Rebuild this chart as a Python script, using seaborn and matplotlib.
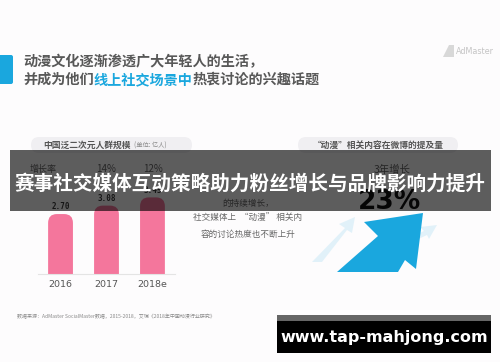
import matplotlib
matplotlib.use("Agg")
import matplotlib.pyplot as plt
import seaborn as sns
from matplotlib.patches import FancyBboxPatch, Rectangle, Polygon

# data
years = ["2016", "2017", "2018e"]
population = [2.70, 3.08, 3.45]          # 亿人
growth_labels = ["", "14%", "12%"]
value_labels = ["2.70", "3.08", "3.45"]

title_line1 = "动漫文化逐渐渗透广大年轻人的生活，"
title_line2_a = "并成为他们"
title_line2_b = "线上社交场景中"
title_line2_c = "热衷讨论的兴趣话题"
left_pill = "中国泛二次元人群规模"
left_unit = "(单位: 亿人)"
right_pill = "“动漫”相关内容在微博的提及量"
middle_lines = ["的持续增长，", "社交媒体上  “动漫” 相关内", "容的讨论热度也不断上升"]
growth_3y = "3年增长"
growth_3y_value = "23%"
source_note = "数据来源：AdMaster SocialMaster数据，2015-2018，艾瑞《2018年中国动漫行业研究》"
banner_text = "赛事社交媒体互动策略助力粉丝增长与品牌影响力提升"
site_text = "www.tap-mahjong.com"

pink = "#F4769C"
blue = "#1AA7DE"

sns.set_theme(style="white")
plt.rcParams["font.family"] = ["Noto Sans CJK SC", "DejaVu Sans"]

fig = plt.figure(figsize=(5, 3.62), dpi=100)
fig.patch.set_facecolor("#FDFCFD")

# background layer in pixel coordinates
bg = fig.add_axes([0, 0, 1, 1], zorder=0)
bg.set_xlim(0, 500)
bg.set_ylim(362, 0)
bg.axis("off")
bg.patch.set_alpha(0)

bg.add_patch(FancyBboxPatch((-6, 55), 19, 29, boxstyle="round,pad=0,rounding_size=2",
                            fc=blue, ec="none"))
bg.text(23, 62, title_line1, fontsize=10.2, fontweight="bold", color="#585858", va="center")
t = bg.text(23, 80, title_line2_a, fontsize=10.2, fontweight="bold", color="#585858", va="center")
fig.canvas.draw()
renderer = fig.canvas.get_renderer()
inv = bg.transData.inverted()


def after(txt):
    bb = txt.get_window_extent(renderer)
    return inv.transform((bb.x1, bb.y0))[0]


t2 = bg.text(after(t), 80, title_line2_b, fontsize=10.2, fontweight="bold", color=blue, va="center")
bg.text(after(t2), 80, title_line2_c, fontsize=10.2, fontweight="bold", color="#585858", va="center")

# AdMaster logo
bg.add_patch(Polygon([(443, 57), (449, 45), (454, 45), (454, 57)], fc="#d8d8d8", ec="none"))
bg.text(456, 51.5, "AdMaster", fontsize=5.8, color="#c4c4c4", va="center", family="DejaVu Sans")

# pills
bg.add_patch(FancyBboxPatch((31, 137), 161, 16, boxstyle="round,pad=0,rounding_size=8",
                            fc="#F0EFF2", ec="none"))
pt = bg.text(43, 145.5, left_pill, fontsize=6.3, fontweight="bold", color="#555555", va="center")
bg.text(after(pt) + 3, 146, left_unit, fontsize=4.5, color="#888888", va="center")
bg.add_patch(FancyBboxPatch((298, 137), 160, 16, boxstyle="round,pad=0,rounding_size=8",
                            fc="#F0EFF2", ec="none"))
bg.text(378, 145.5, right_pill, fontsize=6.3, fontweight="bold", color="#555555",
        va="center", ha="center")

# middle text
for i, line in enumerate(middle_lines):
    bg.text(248, 203 + i * 15.5, line, fontsize=6.2, color="#666666", ha="center", va="center")

# right panel: growth and arrows
bg.text(392, 170, growth_3y, fontsize=7.5, color="#666666", ha="center", va="center")
bg.text(390, 202, growth_3y_value, fontsize=19, fontweight="bold", color="#111111",
        ha="center", va="center", family="DejaVu Sans")
bg.add_patch(Polygon([(312, 262), (345, 228), (339, 224), (355, 217), (352, 233), (347, 230),
                      (322, 262)], fc="#d6edf8", ec="none", alpha=0.7))
bg.add_patch(Polygon([(375, 254), (424, 231), (420, 227), (437, 225), (429, 239), (427, 235),
                      (387, 254)], fc="#d6edf8", ec="none", alpha=0.7))
bg.add_patch(Polygon([(423, 213), (416, 269), (405, 260), (398, 272), (337, 272),
                      (378, 236), (364, 222)], fc=blue, ec="none"))

# source note
bg.text(17, 317, source_note, fontsize=3.6, color="#8a8a8a", va="center")

# bar chart
ax = fig.add_axes([38 / 500, (362 - 274) / 362, 137 / 500, (274 - 140) / 362], zorder=1)
ax.patch.set_alpha(0)
sns.barplot(x=years, y=population, ax=ax, color=pink, width=0.54, saturation=1)
px_per_unit_y = 22.2
ax.set_xlim(-0.49, 2.49)
ax.set_ylim(0, 134 / px_per_unit_y)

for p in list(ax.patches):
    x0, w, h = p.get_x(), p.get_width(), p.get_height()
    p.remove()
    ax.add_patch(FancyBboxPatch((x0, -0.6), w, h + 0.6,
                                boxstyle="round,pad=0,rounding_size=0.19",
                                mutation_aspect=2.1, fc=pink, ec="none"))

for i, (v, lab) in enumerate(zip(population, value_labels)):
    ax.text(i, v + 0.32, lab, ha="center", va="center", fontsize=5.5, fontweight="bold",
            color="#3a3a3a", family="DejaVu Sans Mono")
ax.text(-0.38, 4.73, "增长率", ha="center", va="center", fontsize=6.5, color="#666666", clip_on=False)
for i, g in enumerate(growth_labels):
    if g:
        ax.text(i, 4.73, g, ha="center", va="center", fontsize=7, color="#666666")

ax.set_xlabel("")
ax.set_ylabel("")
ax.set_yticks([])
ax.tick_params(axis="x", length=0, pad=4, labelsize=6.8, labelcolor="#555555")
for lab in ax.get_xticklabels():
    lab.set_family("DejaVu Sans")
sns.despine(ax=ax, left=True)
ax.spines["bottom"].set_color("#e4e4e4")
ax.spines["bottom"].set_linewidth(0.8)

# overlay: banner and site box
ov = fig.add_axes([0, 0, 1, 1], zorder=2)
ov.set_xlim(0, 500)
ov.set_ylim(362, 0)
ov.axis("off")
ov.patch.set_alpha(0)
ov.add_patch(Rectangle((10, 150), 481, 61, fc="#000000", alpha=0.63, ec="none"))
ov.text(250, 184, banner_text, fontsize=14.1, fontweight="bold", color="white",
        ha="center", va="center")
ov.add_patch(Rectangle((277, 315), 214, 38, fc="#000000", ec="none"))
ov.add_patch(Rectangle((277, 315), 214, 6, fc="#666666", ec="none"))
ov.text(384, 337.5, site_text, fontsize=11.5, fontweight="bold", color="white",
        ha="center", va="center", family="DejaVu Sans")

fig.savefig("out.png", dpi=100, facecolor=fig.get_facecolor())
